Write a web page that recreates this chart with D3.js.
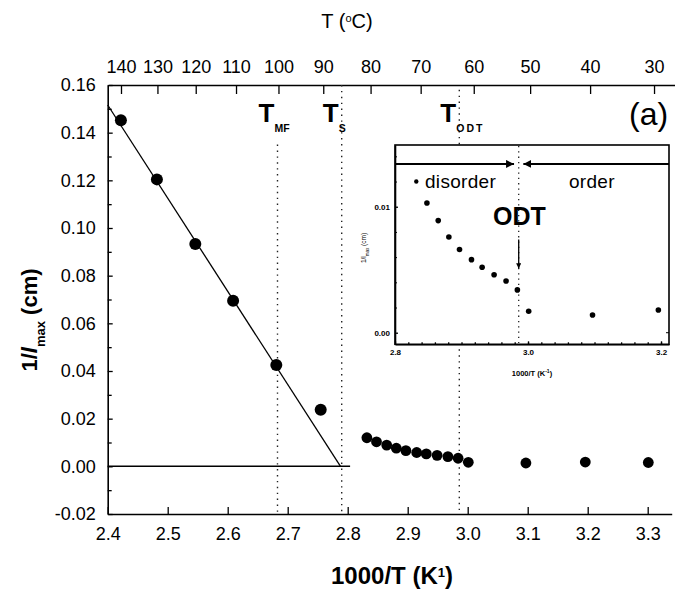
<!DOCTYPE html>
<html><head><meta charset="utf-8">
<script src="https://cdn.jsdelivr.net/npm/d3@7/dist/d3.min.js"></script>
<style>
body{margin:0;background:#fff}
svg{display:block}
text{font-family:"Liberation Sans",Arial,sans-serif;fill:#000}
</style>
</head><body>
<svg id="c" width="675" height="596"></svg>
<script>
// ---- data ----
const highX = [2.422, 2.482, 2.546, 2.609, 2.681, 2.755];
const highY = [0.1452, 0.1204, 0.0933, 0.0695, 0.0425, 0.0237];
const lowX = [2.832, 2.848, 2.865, 2.881, 2.897, 2.915, 2.931, 2.949, 2.967, 2.984, 3.001, 3.097, 3.196, 3.301];
const lowY = [0.0120, 0.0103, 0.0089, 0.0076, 0.0066, 0.0058, 0.0052, 0.0046, 0.0041, 0.0034, 0.0017, 0.0014, 0.0018, 0.0016];
const fitX = [2.4, 2.788];
const fitY = [0.1516, 0];
const zeroX = [2.4, 2.804];
const markerX = [2.683, 2.790, 2.986];
const markerSub = ["MF", "S", "ODT"];
const markerTop = [0.135, 0.16, 0.158];
const xTicks = [2.4, 2.5, 2.6, 2.7, 2.8, 2.9, 3.0, 3.1, 3.2, 3.3];
const yTicks = [-0.02, 0, 0.02, 0.04, 0.06, 0.08, 0.10, 0.12, 0.14, 0.16];
const yMinor = [-0.01, 0.01, 0.03, 0.05, 0.07, 0.09, 0.11, 0.13, 0.15];
const topC = [140, 130, 120, 110, 100, 90, 80, 70, 60, 50, 40, 30];
const insetXTicks = [2.8, 3.0, 3.2];
const insetYTicks = [0.00, 0.01];
const insetArrowY = 0.0134;
const odtArrowY = [0.0074, 0.0051];

const svg = d3.select("#c");
svg.append("rect").attr("width", 675).attr("height", 596).attr("fill", "#fff");

// ---- scales ----
const x = d3.scaleLinear().domain([2.4, 3.34]).range([107.7, 671.7]);
const xTop = d3.scaleLinear().domain([2.4, 3.34]).range([108.6, 679.1]);
const y = d3.scaleLinear().domain([-0.02, 0.16]).range([514, 85]);

const g = svg.append("g");

function styleAxis(sel, fs) {
  sel.selectAll(".domain").attr("stroke", "#000").attr("stroke-width", 1.6);
  sel.selectAll(".tick line").attr("stroke", "#000").attr("stroke-width", 1.3);
  sel.selectAll("text").attr("font-size", fs).attr("fill", "#000").style("font-family", '"Liberation Sans",Arial,sans-serif');
}
const ax = g.append("g").attr("transform", `translate(0,${y(-0.02)})`)
  .call(d3.axisBottom(x).tickValues(xTicks).tickSize(-7).tickSizeOuter(0).tickPadding(13).tickFormat(d => d.toFixed(1)));
styleAxis(ax, 18);
const at = g.append("g").attr("transform", `translate(0,${y(0.16)})`)
  .call(d3.axisTop(xTop).tickValues(topC.map(c => 1000 / (c + 273.15))).tickSize(-9).tickSizeOuter(0).tickPadding(12).tickFormat((d, i) => topC[i]));
styleAxis(at, 18);
const ay = g.append("g").attr("transform", `translate(${x(2.4)},0)`)
  .call(d3.axisLeft(y).tickValues(yTicks).tickSize(-5).tickSizeOuter(0).tickPadding(12).tickFormat(d => d.toFixed(2)));
styleAxis(ay, 18);
const aym = g.append("g").attr("transform", `translate(${x(2.4)},0)`)
  .call(d3.axisLeft(y).tickValues(yMinor).tickSize(-4).tickSizeOuter(0).tickFormat(""));
styleAxis(aym, 10);
aym.select(".domain").remove();

// axis titles
g.append("text").attr("x", 392).attr("y", 584).attr("text-anchor", "middle")
  .attr("font-size", 24).attr("font-weight", "bold")
  .html('1000/T (K<tspan baseline-shift="super" font-size="13">1</tspan>)');
g.append("text").attr("x", 347).attr("y", 28).attr("text-anchor", "middle")
  .attr("font-size", 20)
  .html('T (<tspan baseline-shift="super" font-size="11">o</tspan>C)');
g.append("text").attr("transform", "translate(37,320) rotate(-90)").attr("text-anchor", "middle")
  .attr("font-size", 22).attr("font-weight", "bold")
  .html('1/<tspan font-style="italic">l</tspan><tspan baseline-shift="sub" font-size="13">max</tspan> (cm)');

// zero line and fit line
const line = d3.line().x(d => x(d[0])).y(d => y(d[1]));
g.append("path").attr("d", line(zeroX.map(v => [v, 0]))).attr("stroke", "#000").attr("stroke-width", 1.5).attr("fill", "none");
g.append("path").attr("d", line(fitX.map((v, i) => [v, fitY[i]]))).attr("stroke", "#000").attr("stroke-width", 1.3).attr("fill", "none");

// dotted marker lines
markerX.forEach((m, i) => {
  g.append("line").attr("x1", x(m)).attr("x2", x(m)).attr("y1", y(markerTop[i])).attr("y2", y(-0.02))
    .attr("stroke", "#222").attr("stroke-width", 1.4).attr("stroke-dasharray", "1.4,4.5");
  g.append("text").attr("x", x(m) - 19).attr("y", 122).attr("font-weight", "bold").attr("font-size", 26)
    .text("T");
  g.append("text").attr("x", x(m) - 3).attr("y", 132).attr("font-weight", "bold").attr("font-size", 10.5)
    .attr("letter-spacing", markerSub[i] === "ODT" ? 2 : 0)
    .text(markerSub[i]);
});

// points
g.selectAll("circle.h").data(highX.map((v, i) => [v, highY[i]])).enter().append("circle")
  .attr("cx", d => x(d[0])).attr("cy", d => y(d[1])).attr("r", 6).attr("fill", "#000");
g.selectAll("circle.l").data(lowX.map((v, i) => [v, lowY[i]])).enter().append("circle")
  .attr("cx", d => x(d[0])).attr("cy", d => y(d[1])).attr("r", 5.4).attr("fill", "#000");

// (a)
g.append("text").attr("x", 629).attr("y", 125).attr("font-size", 32).text("(a)");

// ---- inset ----
const ix = d3.scaleLinear().domain([2.8, 3.212]).range([395, 669]);
const iy = d3.scaleLinear().domain([-0.00092, 0.0149]).range([344.3, 145]);
const ig = svg.append("g");
ig.append("rect").attr("x", 395).attr("y", 145).attr("width", 274).attr("height", 199.3)
  .attr("fill", "#fff").attr("stroke", "#000").attr("stroke-width", 1.6);

const iax = ig.append("g").attr("transform", `translate(0,${iy.range()[0]})`)
  .call(d3.axisBottom(ix).tickValues(insetXTicks).tickSize(-3).tickSizeOuter(0).tickPadding(5).tickFormat(d => d.toFixed(1)));
styleAxis(iax, 8);
iax.selectAll("text").attr("font-weight", "bold");
const iaxm = ig.append("g").attr("transform", `translate(0,${iy.range()[0]})`)
  .call(d3.axisBottom(ix).tickValues(d3.range(2.82, 3.2, 0.02)).tickSize(-2).tickSizeOuter(0).tickFormat(""));
styleAxis(iaxm, 8); iaxm.select(".domain").remove();
const iay = ig.append("g").attr("transform", `translate(395,0)`)
  .call(d3.axisLeft(iy).tickValues(insetYTicks).tickSize(-3).tickSizeOuter(0).tickPadding(5).tickFormat(d => d.toFixed(2)));
styleAxis(iay, 8);
iay.selectAll("text").attr("font-weight", "bold");
const iaym = ig.append("g").attr("transform", `translate(395,0)`)
  .call(d3.axisLeft(iy).tickValues([0.002, 0.004, 0.006, 0.008, 0.012, 0.014])).call(a => a.selectAll("text").remove());
iaym.selectAll(".tick line").attr("x2", 2).attr("stroke", "#000");
iaym.select(".domain").remove();
ig.append("line").attr("x1", 669).attr("x2", 666).attr("y1", iy(0.0)).attr("y2", iy(0.0)).attr("stroke", "#000");

ig.append("text").attr("x", 532).attr("y", 376).attr("text-anchor", "middle").attr("font-size", 7.5).attr("font-weight", "bold")
  .html('1000/T (K<tspan baseline-shift="super" font-size="5">-1</tspan>)');
ig.append("text").attr("transform", "translate(366,248) rotate(-90)").attr("text-anchor", "middle").attr("font-size", 6.5)
  .attr("fill", "#555").html('1/l<tspan baseline-shift="sub" font-size="4.5">max</tspan> (cm)');

ig.append("line").attr("x1", ix(2.986)).attr("x2", ix(2.986)).attr("y1", 146).attr("y2", 343)
  .attr("stroke", "#222").attr("stroke-width", 1.3).attr("stroke-dasharray", "1.3,4");

const defs = svg.append("defs");
defs.append("marker").attr("id", "ah").attr("viewBox", "0 0 10 10").attr("refX", 10).attr("refY", 5)
  .attr("markerWidth", 4).attr("markerHeight", 4).attr("orient", "auto-start-reverse")
  .append("path").attr("d", "M0,0L10,5L0,10z").attr("fill", "#000");

ig.append("line").attr("x1", ix(2.8)).attr("x2", ix(2.979)).attr("y1", iy(insetArrowY)).attr("y2", iy(insetArrowY))
  .attr("stroke", "#000").attr("stroke-width", 2).attr("marker-end", "url(#ah)");
ig.append("line").attr("x1", ix(3.212)).attr("x2", ix(2.993)).attr("y1", iy(insetArrowY)).attr("y2", iy(insetArrowY))
  .attr("stroke", "#000").attr("stroke-width", 2).attr("marker-end", "url(#ah)");
ig.append("line").attr("x1", ix(2.986)).attr("x2", ix(2.986)).attr("y1", iy(odtArrowY[0])).attr("y2", iy(odtArrowY[1]))
  .attr("stroke", "#000").attr("stroke-width", 1.3).attr("marker-end", "url(#ah)");

ig.append("text").attr("x", 425).attr("y", 188).attr("font-size", 19).attr("letter-spacing", 0.3).text("disorder");
ig.append("text").attr("x", 569).attr("y", 188).attr("font-size", 19).attr("letter-spacing", 0.3).text("order");
ig.append("text").attr("x", 493).attr("y", 225).attr("font-size", 25).attr("font-weight", "bold").text("ODT");

const inPts = lowX.map((v, i) => [v, lowY[i]]).filter(d => d[0] <= 3.212);
ig.selectAll("circle").data(inPts).enter().append("circle")
  .attr("cx", d => ix(d[0])).attr("cy", d => iy(d[1])).attr("r", (d, i) => i === 0 ? 2.2 : 2.8).attr("fill", "#000");
</script>
</body></html>
